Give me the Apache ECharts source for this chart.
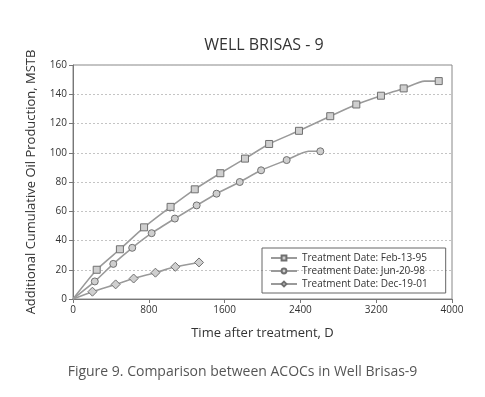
<!DOCTYPE html>
<html>
<head>
<meta charset="utf-8">
<script src="https://cdn.jsdelivr.net/npm/echarts@6/dist/echarts.min.js"></script>
<style>
  html, body { margin: 0; padding: 0; background: #fff; }
  #chart { width: 485px; height: 397px; }
</style>
</head>
<body>
<div id="chart"></div>
<script>
// Points: [days after treatment, MSTB]
const feb95 = [[0, 0], [250, 20], [495, 34], [750, 49], [1030, 63], [1285, 75], [1555, 86], [1815, 96],
  [2070, 106], [2385, 115], [2715, 125], [2990, 133], [3250, 139], [3490, 144], [3710, 149], [3860, 149]];
const jun98 = [[0, 0], [230, 12], [425, 24], [625, 35], [830, 45], [1075, 55], [1305, 64], [1515, 72],
  [1760, 80], [1985, 88], [2255, 95], [2485, 101], [2610, 101]];
const dec01 = [[0, 0], [205, 5], [450, 10], [640, 14], [870, 18], [1080, 22], [1330, 25]];
// points that are only on the line, with no marker drawn
const lineOnly = [[0, 0], [3710, 149], [2485, 101]];

const seriesNames = ['Treatment Date: Feb-13-95', 'Treatment Date: Jun-20-98', 'Treatment Date: Dec-19-01'];
const seriesSymbols = ['rect', 'circle', 'diamond'];
const seriesSizes = [7, 7, 9];

const chart = echarts.init(document.getElementById('chart'));
const font = 'Open Sans';

function toItems(pts) {
  return pts.map(p => {
    const hide = lineOnly.some(q => q[0] === p[0] && q[1] === p[1]);
    return hide ? { value: p, symbol: 'none' } : { value: p };
  });
}

const option = {
  animation: false,
  textStyle: { fontFamily: font },
  title: {
    text: 'WELL BRISAS - 9',
    left: 259, top: 32, textAlign: 'center',
    textStyle: { fontFamily: font, fontSize: 16, fontWeight: 'normal', color: '#333' }
  },
  graphic: [{
    type: 'text', left: 'center', top: 365,
    style: { text: 'Figure 9. Comparison between ACOCs in Well Brisas-9', font: '14px "Open Sans"', fill: '#555' }
  }],
  legend: {
    orient: 'vertical', left: 262, top: 248,
    borderColor: '#666', borderWidth: 1, padding: [5, 18, 4, 8],
    itemGap: 3, itemWidth: 26, itemHeight: 6,
    textStyle: { fontFamily: font, fontSize: 10, color: '#333' },
    data: seriesNames
  },
  grid: { left: 73, right: 33, top: 65, bottom: 98, show: true, borderColor: '#888', borderWidth: 1 },
  xAxis: {
    type: 'value', min: 0, max: 4000, interval: 800,
    name: 'Time after treatment, D', nameLocation: 'middle', nameGap: 28,
    nameTextStyle: { fontFamily: font, fontSize: 13, color: '#333' },
    axisLine: { lineStyle: { color: '#777' } },
    axisTick: { lineStyle: { color: '#777' }, length: 4 },
    axisLabel: { fontFamily: font, fontSize: 10, color: '#333', margin: 6, formatter: v => String(v) },
    splitLine: { show: false }
  },
  yAxis: {
    type: 'value', min: 0, max: 160, interval: 20,
    name: 'Additional Cumulative Oil Production, MSTB', nameLocation: 'middle', nameGap: 35,
    nameTextStyle: { fontFamily: font, fontSize: 13, color: '#333' },
    axisLine: { show: true, lineStyle: { color: '#777' } },
    axisTick: { show: true, lineStyle: { color: '#777' }, length: 4 },
    axisLabel: { fontFamily: font, fontSize: 10, color: '#333', margin: 6 },
    splitLine: { lineStyle: { color: '#c4c4c4', type: [2, 2] } }
  },
  series: [feb95, jun98, dec01].map((pts, i) => ({
    name: seriesNames[i],
    type: 'line',
    data: toItems(pts),
    smooth: 0.2,
    symbol: seriesSymbols[i],
    symbolSize: seriesSizes[i],
    showAllSymbol: true,
    lineStyle: { color: '#9a9a9a', width: 1.6 },
    itemStyle: { color: '#cfcfcf', borderColor: '#707070', borderWidth: 1 }
  }))
};

chart.setOption(option);
</script>
</body>
</html>
